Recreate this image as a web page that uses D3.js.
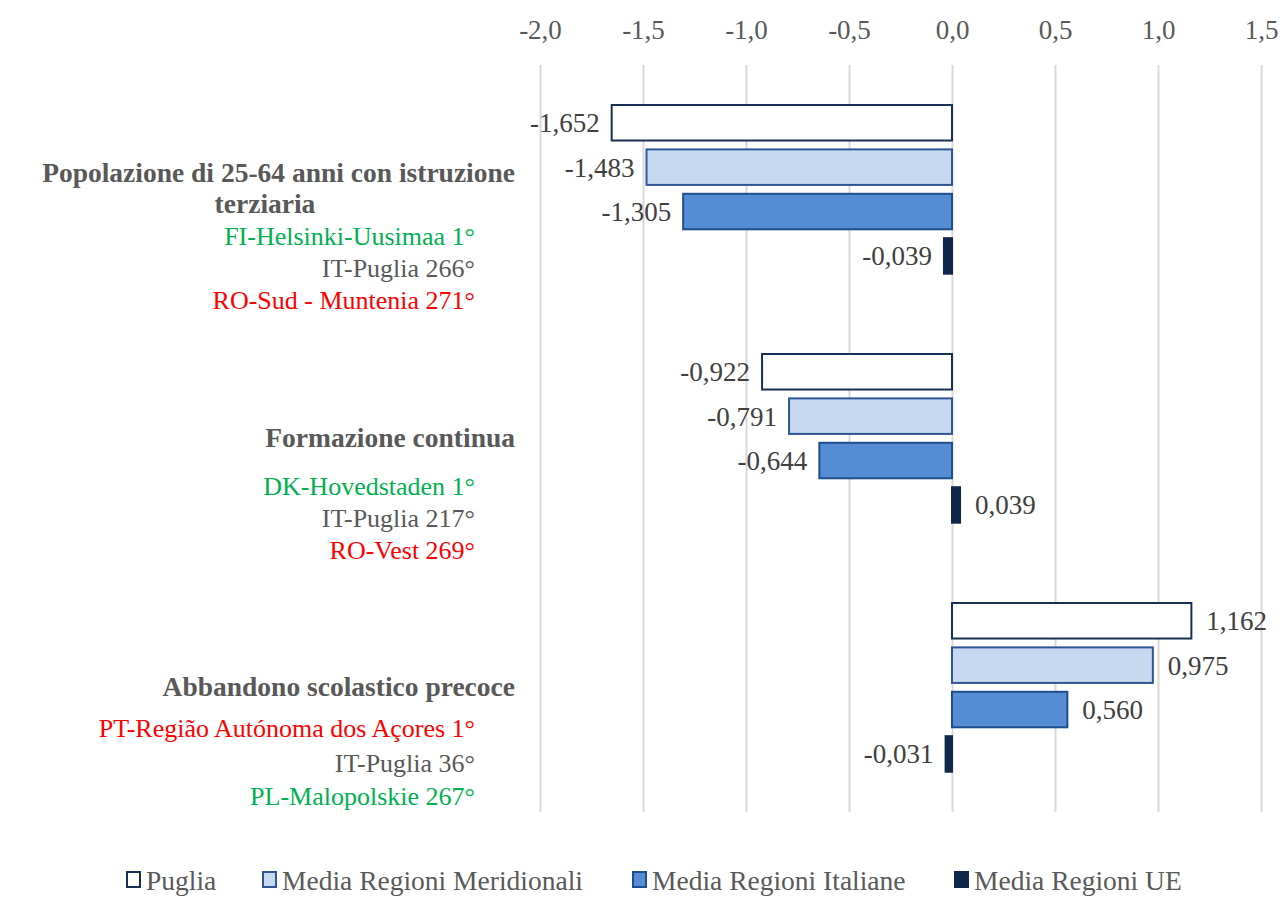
<!DOCTYPE html>
<html><head><meta charset="utf-8">
<script src="https://cdn.jsdelivr.net/npm/d3@7"></script>
<style>
html,body{margin:0;padding:0;background:#fff;}
svg{display:block;font-family:"Liberation Serif","Times New Roman",serif;}
</style></head>
<body>
<svg id="chart" width="1282" height="897"></svg>
<script>
// ---- data ----
const categories = [
  "Popolazione di 25-64 anni con istruzione terziaria",
  "Formazione continua",
  "Abbandono scolastico precoce"
];
const categoryLines = [
  ["Popolazione di 25-64 anni con istruzione", "terziaria"],
  ["Formazione continua"],
  ["Abbandono scolastico precoce"]
];
const rankLines = [
  [["FI-Helsinki-Uusimaa 1°","best"],["IT-Puglia 266°","it"],["RO-Sud - Muntenia 271°","worst"]],
  [["DK-Hovedstaden 1°","best"],["IT-Puglia 217°","it"],["RO-Vest 269°","worst"]],
  [["PT-Região Autónoma dos Açores 1°","worst"],["IT-Puglia 36°","it"],["PL-Malopolskie 267°","best"]]
];
const series = ["Puglia","Media Regioni Meridionali","Media Regioni Italiane","Media Regioni UE"];
const puglia      = [-1.652, -0.922, 1.162];
const meridionali = [-1.483, -0.791, 0.975];
const italiane    = [-1.305, -0.644, 0.560];
const ue          = [-0.039,  0.039, -0.031];
const tickValues  = [-2.0, -1.5, -1.0, -0.5, 0.0, 0.5, 1.0, 1.5];

const values = [puglia, meridionali, italiane, ue];
const fills   = ["#FFFFFF","#C6D9F0","#548DD4","#10264A"];
const strokes = ["#1A2F55","#2F5597","#1F4E8C","#10264A"];
const rankColor = {best:"#00B050", it:"#595959", worst:"#FF0000"};

const locale = d3.formatLocale({decimal:",", thousands:".", grouping:[3], currency:["","€"], minus:"-"});
const fmt3 = locale.format(".3f");
const fmt1 = locale.format(".1f");

const svg = d3.select("#chart");
const x = d3.scaleLinear().domain([-2, 1.5]).range([540, 1261]);
const y0 = d3.scaleBand().domain(categories).range([65, 812]);
const y1 = d3.scaleBand().domain(series).range([40, 208.7]).paddingInner(0.2).paddingOuter(0);

// gridlines
svg.append("g")
  .attr("transform","translate(0,65)")
  .call(d3.axisBottom(x).tickValues(tickValues).tickSize(747).tickFormat(""))
  .call(g => g.select(".domain").remove())
  .call(g => g.selectAll("line").attr("stroke","#D9D9D9").attr("stroke-width",2));

// top axis labels
svg.append("g")
  .attr("transform","translate(0,39)")
  .call(d3.axisTop(x).tickValues(tickValues).tickSize(0).tickPadding(0).tickFormat(fmt1))
  .call(g => g.select(".domain").remove())
  .call(g => g.selectAll("text").attr("font-family","Liberation Serif").attr("font-size",27).attr("fill","#595959"));

// bars
const groups = svg.append("g").selectAll("g").data(categories).join("g")
  .attr("transform", d => `translate(0,${y0(d)})`);

series.forEach((s, si) => {
  groups.append("rect")
    .attr("x", (d,i) => x(Math.min(0, values[si][i])))
    .attr("y", y1(s))
    .attr("width", (d,i) => Math.abs(x(values[si][i]) - x(0)))
    .attr("height", y1.bandwidth())
    .attr("fill", fills[si])
    .attr("stroke", strokes[si])
    .attr("stroke-width", 2);
  groups.append("text")
    .attr("x", (d,i) => values[si][i] < 0 ? x(values[si][i]) - 12 : x(values[si][i]) + 15)
    .attr("y", y1(s) + y1.bandwidth()/2)
    .attr("dy","0.35em")
    .attr("text-anchor", (d,i) => values[si][i] < 0 ? "end" : "start")
    .attr("font-size", 27)
    .attr("fill", "#404040")
    .text((d,i) => fmt3(values[si][i]));
});

// category labels
const catLayout = [
  {lines:[182,213], ranks:[245,277,309]},
  {lines:[447], ranks:[495,527,559]},
  {lines:[696], ranks:[737,772,805]}
];
categories.forEach((c, ci) => {
  const L = catLayout[ci];
  categoryLines[ci].forEach((t, li) => {
    const wrapped = li > 0;
    svg.append("text")
      .attr("x", wrapped ? 265 : 515)
      .attr("y", L.lines[li])
      .attr("text-anchor", wrapped ? "middle" : "end")
      .attr("font-size", 27.5)
      .attr("font-weight", "bold")
      .attr("fill", "#595959")
      .text(t);
  });
  rankLines[ci].forEach((r, ri) => {
    svg.append("text")
      .attr("x", 475)
      .attr("y", L.ranks[ri])
      .attr("text-anchor","end")
      .attr("font-size", 26)
      .attr("fill", rankColor[r[1]])
      .text(r[0]);
  });
});

// legend
const legendX = [126, 262, 632, 954];
const lg = svg.append("g").selectAll("g").data(series).join("g")
  .attr("transform", (d,i) => `translate(${legendX[i]},872)`);
lg.append("rect").attr("x",1).attr("y",0).attr("width",13).attr("height",15)
  .attr("fill",(d,i)=>fills[i]).attr("stroke",(d,i)=>strokes[i]).attr("stroke-width",2);
lg.append("text").attr("x",20).attr("y",8).attr("dy","0.35em")
  .attr("font-size",27.5).attr("fill","#595959").text(d=>d);
</script>
</body></html>
